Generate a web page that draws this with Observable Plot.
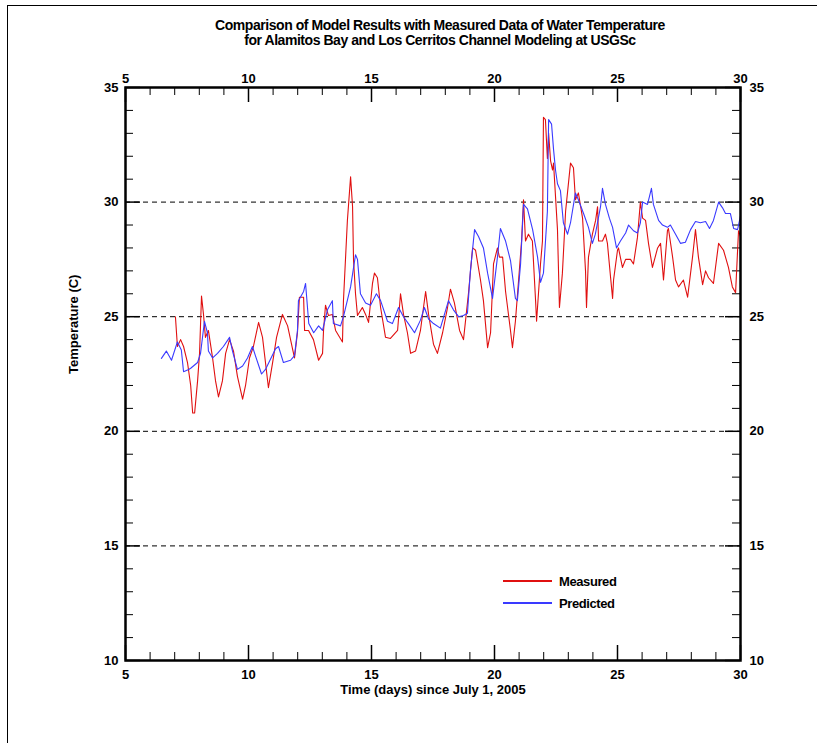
<!DOCTYPE html>
<html><head><meta charset="utf-8">
<script src="https://cdn.jsdelivr.net/npm/d3@7"></script>
<script src="https://cdn.jsdelivr.net/npm/@observablehq/plot@0.6"></script>
<style>
body{margin:0;background:#fff;}
#wrap{position:relative;width:817px;height:743px;overflow:hidden;font-family:"Liberation Sans",Arial,sans-serif;}
#border{position:absolute;left:7px;top:5px;width:900px;height:900px;border-left:1.5px solid #000;border-top:1.5px solid #000;box-sizing:border-box;}
#title{position:absolute;left:0;width:880px;top:18px;text-align:center;font-weight:bold;font-size:14px;line-height:15px;letter-spacing:-0.45px;color:#000;}
#chart{position:absolute;left:0;top:0;}
#legend{position:absolute;left:503px;top:570px;font-weight:bold;font-size:13px;letter-spacing:-0.4px;}
#legend .row{height:22px;display:flex;align-items:center;}
</style></head>
<body>
<div id="wrap">
  <div id="border"></div>
  <div id="chart"></div>
  <div id="title"></div>
  <div id="legend"></div>
</div>
<script>
// ---- data ----
const titleLines = ["Comparison of Model Results with Measured Data of Water Temperature",
                    "for Alamitos Bay and Los Cerritos Channel Modeling at USGSc"];
const xLabel = "Time (days) since July 1, 2005";
const yLabel = "Temperature (C)";
const seriesNames = ["Measured", "Predicted"];
const seriesColors = ["#e01010", "#3a3aff"];
const xTicks = [5, 10, 15, 20, 25, 30];
const yTicks = [10, 15, 20, 25, 30, 35];
const gridValues = [15, 20, 25, 30];

const measuredDay = [7.03,7.11,7.24,7.36,7.52,7.65,7.73,7.81,7.93,8.01,8.09,8.17,8.25,8.37,8.54,8.66,8.78,8.94,9.07,9.23,9.39,9.55,9.76,9.88,10.04,10.20,10.41,10.57,10.69,10.81,10.98,11.14,11.38,11.59,11.79,11.87,11.99,12.07,12.24,12.28,12.44,12.64,12.85,13.01,13.05,13.13,13.25,13.41,13.54,13.82,13.86,14.02,14.15,14.23,14.27,14.35,14.43,14.63,14.76,14.88,15.04,15.12,15.24,15.37,15.57,15.77,16.06,16.18,16.30,16.46,16.59,16.79,16.99,17.20,17.32,17.52,17.68,17.89,18.09,18.21,18.37,18.58,18.74,18.94,19.11,19.23,19.43,19.55,19.72,19.84,19.96,20.12,20.20,20.33,20.45,20.65,20.73,20.85,20.98,21.10,21.18,21.26,21.38,21.54,21.67,21.71,21.87,21.95,21.99,22.07,22.15,22.20,22.28,22.36,22.40,22.56,22.64,22.76,22.89,23.09,23.21,23.29,23.41,23.58,23.70,23.74,23.82,23.98,24.11,24.19,24.23,24.39,24.51,24.59,24.72,24.80,24.84,25.00,25.04,25.20,25.33,25.53,25.65,25.81,25.93,26.02,26.14,26.26,26.42,26.63,26.75,26.87,27.03,27.07,27.24,27.36,27.48,27.68,27.85,28.05,28.17,28.29,28.46,28.58,28.70,28.90,29.11,29.31,29.51,29.67,29.80,29.92,30.00];
const measuredTemp = [25.0,23.7,24.0,23.7,23.0,22.0,20.8,20.8,22.2,23.4,25.9,25.1,24.1,24.4,23.2,22.2,21.5,22.2,23.4,24.0,23.5,22.4,21.4,22.0,23.2,23.7,24.75,24.1,23.0,21.9,23.0,24.1,25.1,24.6,23.6,23.2,24.3,25.85,25.85,24.4,24.4,24.0,23.1,23.4,24.4,25.5,25.05,25.1,24.4,23.9,25.7,29.2,31.1,29.8,27.45,26.0,25.05,25.4,25.1,24.75,26.45,26.9,26.7,25.4,24.1,24.05,24.4,26.0,25.1,24.3,23.4,23.5,24.4,26.1,25.1,23.8,23.4,24.3,25.4,26.2,25.6,24.4,24.0,26.0,28.0,27.9,26.6,25.7,23.65,24.3,27.3,28.0,27.6,27.6,26.1,24.4,23.65,24.8,26.6,28.3,30.1,28.3,28.6,28.3,25.7,24.8,27.3,28.3,33.7,33.6,31.9,33.0,31.8,31.4,31.7,28.8,25.4,26.9,29.6,31.7,31.5,30.1,30.4,29.3,27.0,25.4,27.6,28.6,29.2,29.8,28.3,28.3,28.6,28.2,26.7,25.8,26.6,27.9,28.0,27.15,27.5,27.5,27.3,28.45,30.0,29.3,29.2,28.2,27.15,28.0,28.2,26.6,28.75,28.85,27.6,26.6,26.3,26.6,25.85,27.6,28.8,27.6,26.4,27.0,26.7,26.45,28.2,27.9,27.15,26.3,26.05,28.75,28.5];

const predictedDay = [6.46,6.66,6.87,7.11,7.27,7.36,7.57,7.65,7.93,8.05,8.21,8.33,8.37,8.54,8.74,8.98,9.23,9.35,9.55,9.76,9.96,10.16,10.28,10.53,10.69,11.10,11.22,11.42,11.71,11.87,11.99,12.03,12.24,12.32,12.45,12.65,12.85,13.01,13.21,13.41,13.45,13.74,13.86,14.15,14.35,14.43,14.55,14.76,14.96,15.20,15.37,15.65,15.85,16.10,16.30,16.50,16.75,16.99,17.15,17.32,17.52,17.80,18.13,18.33,18.54,18.74,18.90,19.02,19.19,19.35,19.55,19.72,19.92,20.12,20.24,20.45,20.65,20.85,20.93,21.06,21.18,21.34,21.55,21.75,21.87,21.99,22.15,22.20,22.32,22.40,22.48,22.56,22.68,22.80,22.97,23.09,23.29,23.41,23.62,23.82,23.98,24.10,24.31,24.39,24.51,24.67,24.80,24.96,25.12,25.33,25.45,25.65,25.81,25.93,26.02,26.22,26.38,26.46,26.67,26.83,27.03,27.15,27.36,27.56,27.76,27.97,28.17,28.37,28.58,28.74,28.90,29.11,29.27,29.39,29.59,29.72,29.88,30.00];
const predictedTemp = [23.18,23.5,23.1,23.9,23.55,22.6,22.7,22.75,23.0,23.4,24.8,24.3,23.5,23.2,23.4,23.7,24.1,23.5,22.7,22.85,23.2,23.7,23.3,22.5,22.7,23.6,23.7,23.0,23.1,23.3,24.4,25.7,26.1,26.45,24.7,24.3,24.6,24.4,25.3,25.7,24.7,24.6,25.0,26.3,27.7,27.5,26.0,25.6,25.5,26.0,25.7,24.8,24.7,25.4,25.0,24.7,24.3,24.85,25.4,24.9,24.7,24.5,25.7,25.3,25.0,25.05,25.15,27.0,28.8,28.5,28.0,26.9,25.8,27.6,28.85,28.3,27.45,25.8,25.7,27.3,29.9,29.7,28.8,27.6,26.5,26.9,29.6,33.6,33.4,32.3,31.4,30.8,30.5,29.1,28.6,29.1,30.4,30.1,29.5,28.9,28.2,28.6,29.8,30.6,29.9,29.3,28.9,28.0,28.3,28.65,29.0,28.75,28.65,29.1,30.0,29.9,30.6,29.9,29.2,29.0,28.9,29.0,28.6,28.2,28.25,28.8,29.15,29.1,29.15,28.85,29.2,30.0,29.75,29.5,29.5,28.85,28.8,29.4];

// ---- build ----
const measured = measuredDay.map((d, i) => ({day: d, temp: measuredTemp[i]}));
const predicted = predictedDay.map((d, i) => ({day: d, temp: predictedTemp[i]}));
const xMinor = d3.range(5, 31, 1).filter(v => v % 5 !== 0);
const yMinor = d3.range(10, 36, 1).filter(v => v % 5 !== 0);

const W = 817, H = 743, mL = 125, mR = 77, mT = 87, mB = 83;
const fw = W - mL - mR, fh = H - mT - mB;
const minorLen = 8, majorLen = 15;

const chart = Plot.plot({
  width: W, height: H,
  marginLeft: mL, marginRight: mR, marginTop: mT, marginBottom: mB,
  style: {fontFamily: '"Liberation Sans", Arial, sans-serif', fontSize: "13px", fontWeight: "bold", color: "#000", background: "transparent"},
  x: {domain: [5, 30]},
  y: {domain: [10, 35]},
  marks: [
    Plot.ruleY(gridValues, {y: d => d, stroke: "#000", strokeWidth: 1, strokeDasharray: "5,4"}),
    // ticks (inward)
    Plot.tickX(xMinor, {x: d => d, insetTop: fh - minorLen, stroke: "#000", strokeWidth: 1}),
    Plot.tickX(xTicks, {x: d => d, insetTop: fh - majorLen, stroke: "#000", strokeWidth: 1.5}),
    Plot.tickX(xMinor, {x: d => d, insetBottom: fh - minorLen, stroke: "#000", strokeWidth: 1}),
    Plot.tickX(xTicks, {x: d => d, insetBottom: fh - majorLen, stroke: "#000", strokeWidth: 1.5}),
    Plot.tickY(yMinor, {y: d => d, insetRight: fw - minorLen, stroke: "#000", strokeWidth: 1}),
    Plot.tickY(yTicks, {y: d => d, insetRight: fw - majorLen, stroke: "#000", strokeWidth: 1.5}),
    Plot.tickY(yMinor, {y: d => d, insetLeft: fw - minorLen, stroke: "#000", strokeWidth: 1}),
    Plot.tickY(yTicks, {y: d => d, insetLeft: fw - majorLen, stroke: "#000", strokeWidth: 1.5}),
    Plot.axisX({anchor: "bottom", ticks: xTicks, tickSize: 0, tickPadding: 9, label: null}),
    Plot.axisX({anchor: "top", ticks: xTicks, tickSize: 0, tickPadding: 5, label: null}),
    Plot.axisY({anchor: "left", ticks: yTicks, tickSize: 0, tickPadding: 7, label: null}),
    Plot.axisY({anchor: "right", ticks: yTicks, tickSize: 0, tickPadding: 9, label: null}),
    Plot.text([xLabel], {text: d => d, frameAnchor: "bottom", dy: 33, fontSize: 13, fontWeight: "bold"}),
    Plot.text([yLabel], {text: d => d, frameAnchor: "left", dx: -52, rotate: -90, fontSize: 13, fontWeight: "bold"}),
    Plot.line(measured, {x: "day", y: "temp", stroke: seriesColors[0], strokeWidth: 1.1}),
    Plot.line(predicted, {x: "day", y: "temp", stroke: seriesColors[1], strokeWidth: 1.1}),
    Plot.frame({stroke: "#000", strokeWidth: 2.5})
  ]
});
document.getElementById("chart").appendChild(chart);
document.getElementById("title").innerHTML = titleLines.map(t => `<div>${t}</div>`).join("");
document.getElementById("legend").innerHTML = seriesNames.map((n, i) =>
  `<div class="row"><span style="display:inline-block;width:49px;height:1.3px;margin-right:7px;background-color:${seriesColors[i]}"></span><span>${n}</span></div>`).join("");
</script>
</body></html>
